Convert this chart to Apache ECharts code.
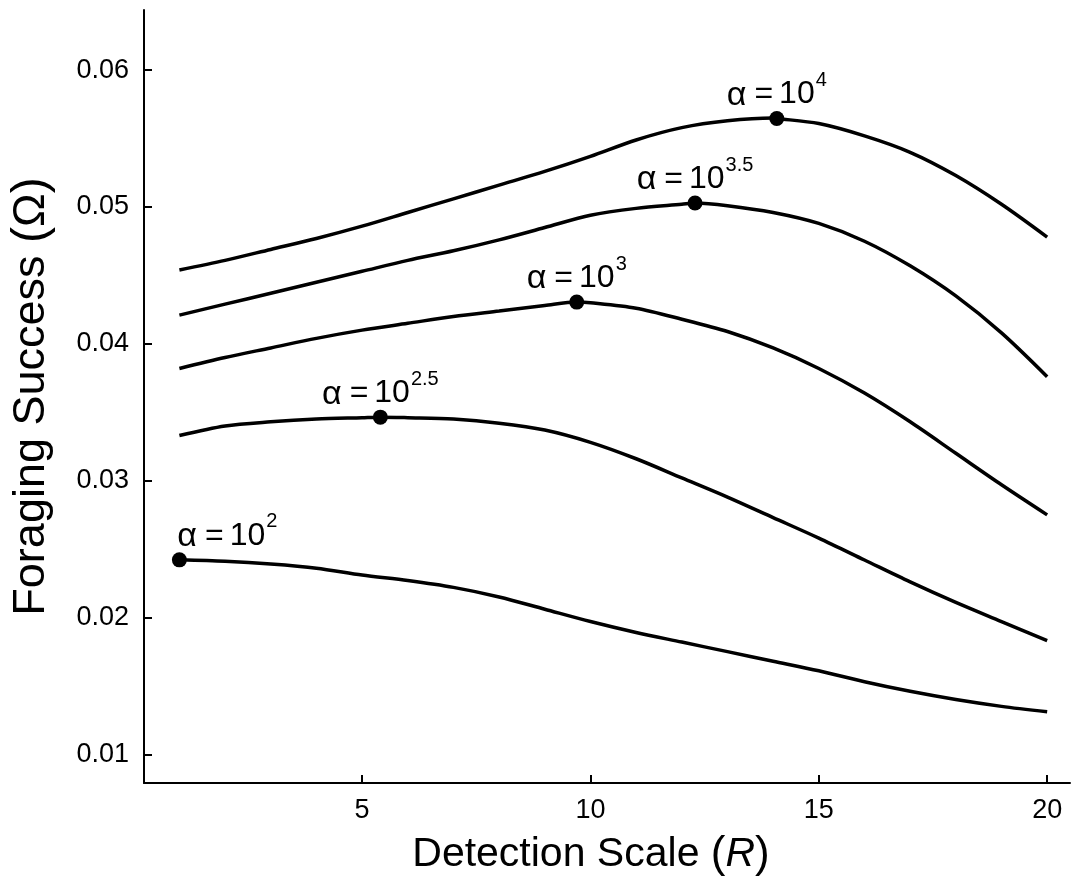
<!DOCTYPE html>
<html>
<head>
<meta charset="utf-8">
<script src="https://cdn.jsdelivr.net/npm/echarts@6/dist/echarts.min.js"></script>
<style>
  html, body { margin: 0; padding: 0; background: #fff; }
  #chart { width: 1081px; height: 884px; }
</style>
</head>
<body>
<div id="chart"></div>
<script>
// detection scale R
const rValues = [1, 2, 3, 4, 5, 6, 7, 8, 9, 10, 11, 12, 13, 14, 15, 16, 17, 18, 19, 20];
// foraging success for each alpha
const omega4 = [0.0454, 0.0461, 0.0469, 0.0477, 0.0486, 0.0496, 0.0506, 0.0516, 0.0526, 0.0537, 0.0549, 0.0558, 0.0563, 0.0565, 0.0561, 0.0552, 0.0540, 0.0523, 0.0502, 0.0478];
const omega35 = [0.0421, 0.0429, 0.0437, 0.0445, 0.0453, 0.0461, 0.0468, 0.0476, 0.0485, 0.0494, 0.0499, 0.0502, 0.0501, 0.0496, 0.0488, 0.0475, 0.0457, 0.0435, 0.0408, 0.0376];
const omega3 = [0.0382, 0.0390, 0.0397, 0.0404, 0.0410, 0.0415, 0.0420, 0.0424, 0.0428, 0.0430, 0.0426, 0.0418, 0.0409, 0.0397, 0.0382, 0.0364, 0.0343, 0.0320, 0.0297, 0.0275];
const omega25 = [0.0333, 0.0340, 0.0343, 0.0345, 0.0346, 0.0346, 0.0345, 0.0342, 0.0337, 0.0328, 0.0316, 0.0302, 0.0288, 0.0273, 0.0258, 0.0242, 0.0226, 0.0211, 0.0197, 0.0183];
const omega2 = [0.0242, 0.0241, 0.0239, 0.0236, 0.0231, 0.0227, 0.0222, 0.0215, 0.0206, 0.0197, 0.0189, 0.0182, 0.0175, 0.0168, 0.0161, 0.0153, 0.0146, 0.0140, 0.0135, 0.0131];
// optimum (marked) points
const peakExponents = ['4', '3.5', '3', '2.5', '2'];
const peakR = [14.08, 12.29, 9.70, 5.40, 1];
const peakOmega = [0.05647, 0.05029, 0.04305, 0.03464, 0.02421];
// ticks
const xTicks = [5, 10, 15, 20];
const yTicks = [0.01, 0.02, 0.03, 0.04, 0.05, 0.06];

const curves = [omega4, omega35, omega3, omega25, omega2];
const FONT = 'Liberation Sans, Arial, Helvetica, sans-serif';

function curveData(vals, i) {
  let pts = rValues.map((r, j) => [r, vals[j]]).filter(p => p[0] !== peakR[i]);
  pts.push([peakR[i], peakOmega[i]]);
  pts.sort((a, b) => a[0] - b[0]);
  return pts;
}

var myChart = echarts.init(document.getElementById('chart'));

let series = curves.map((vals, i) => ({
  type: 'line',
  data: curveData(vals, i),
  smooth: 0.3,
  showSymbol: false,
  lineStyle: { color: '#000', width: 3.5 },
  z: 2
}));

series.push({
  type: 'scatter',
  symbolSize: 15,
  itemStyle: { color: '#000', opacity: 1 },
  z: 3,
  data: peakR.map((r, i) => {
    let d = { value: [r, peakOmega[i]], exp: peakExponents[i] };
    if (i === 4) {
      d.label = { offset: [48, -31] };
    }
    return d;
  }),
  label: {
    show: true,
    position: 'inside',
    offset: [0, -31],
    color: '#000',
    textBorderWidth: 0,
    formatter: function (p) {
      return '{g|α}{e|=}{a|10}{s|' + p.data.exp + '}';
    },
    rich: {
      g: { fontFamily: FONT, fontSize: 34, color: '#000', lineHeight: 34, padding: [8, 0, 0, 0], verticalAlign: 'top' },
      e: { fontFamily: FONT, fontSize: 32, color: '#000', lineHeight: 34, padding: [8, 6, 0, 8], verticalAlign: 'top' },
      a: { fontFamily: FONT, fontSize: 32, color: '#000', lineHeight: 34, padding: [8, 0, 0, 0], verticalAlign: 'top' },
      s: { fontFamily: FONT, fontSize: 20, color: '#000', lineHeight: 20, padding: [0, 0, 0, 1], verticalAlign: 'top' }
    }
  }
});

let option = {
  animation: false,
  backgroundColor: '#fff',
  grid: { left: 144, right: 11, top: 10, bottom: 101, containLabel: false, outerBoundsMode: 'none' },
  xAxis: {
    type: 'value',
    min: 0.225,
    max: 20.5,
    name: '{n|Detection Scale }{p|(}{i|R}{p|)}',
    nameLocation: 'middle',
    nameGap: 50,
    nameTextStyle: {
      padding: [0, 32, 0, 0],
      rich: {
        n: { fontFamily: FONT, fontSize: 41, color: '#000' },
        p: { fontFamily: FONT, fontSize: 44, color: '#000' },
        i: { fontFamily: FONT, fontSize: 41, color: '#000', fontStyle: 'italic' }
      }
    },
    axisLine: { lineStyle: { color: '#000', width: 2 } },
    axisTick: { inside: true, length: 8, customValues: xTicks, lineStyle: { color: '#000', width: 2 } },
    axisLabel: { customValues: xTicks, margin: 14, fontFamily: FONT, fontSize: 27, color: '#000' },
    splitLine: { show: false }
  },
  yAxis: {
    type: 'value',
    min: 0.0079,
    max: 0.0644,
    name: '{n|Foraging Success }{p|(}{n|Ω}{p|)}',
    nameLocation: 'middle',
    nameRotate: 90,
    nameGap: 88,
    nameTextStyle: {
      rich: {
        n: { fontFamily: FONT, fontSize: 45, color: '#000' },
        p: { fontFamily: FONT, fontSize: 48, color: '#000' }
      }
    },
    axisLine: { show: true, lineStyle: { color: '#000', width: 2 } },
    axisTick: { show: true, inside: true, length: 8, customValues: yTicks, lineStyle: { color: '#000', width: 2 } },
    axisLabel: {
      customValues: yTicks,
      margin: 15,
      fontFamily: FONT,
      fontSize: 27,
      color: '#000',
      formatter: v => v.toFixed(2)
    },
    splitLine: { show: false }
  },
  series: series
};
myChart.setOption(option);
</script>
</body>
</html>
